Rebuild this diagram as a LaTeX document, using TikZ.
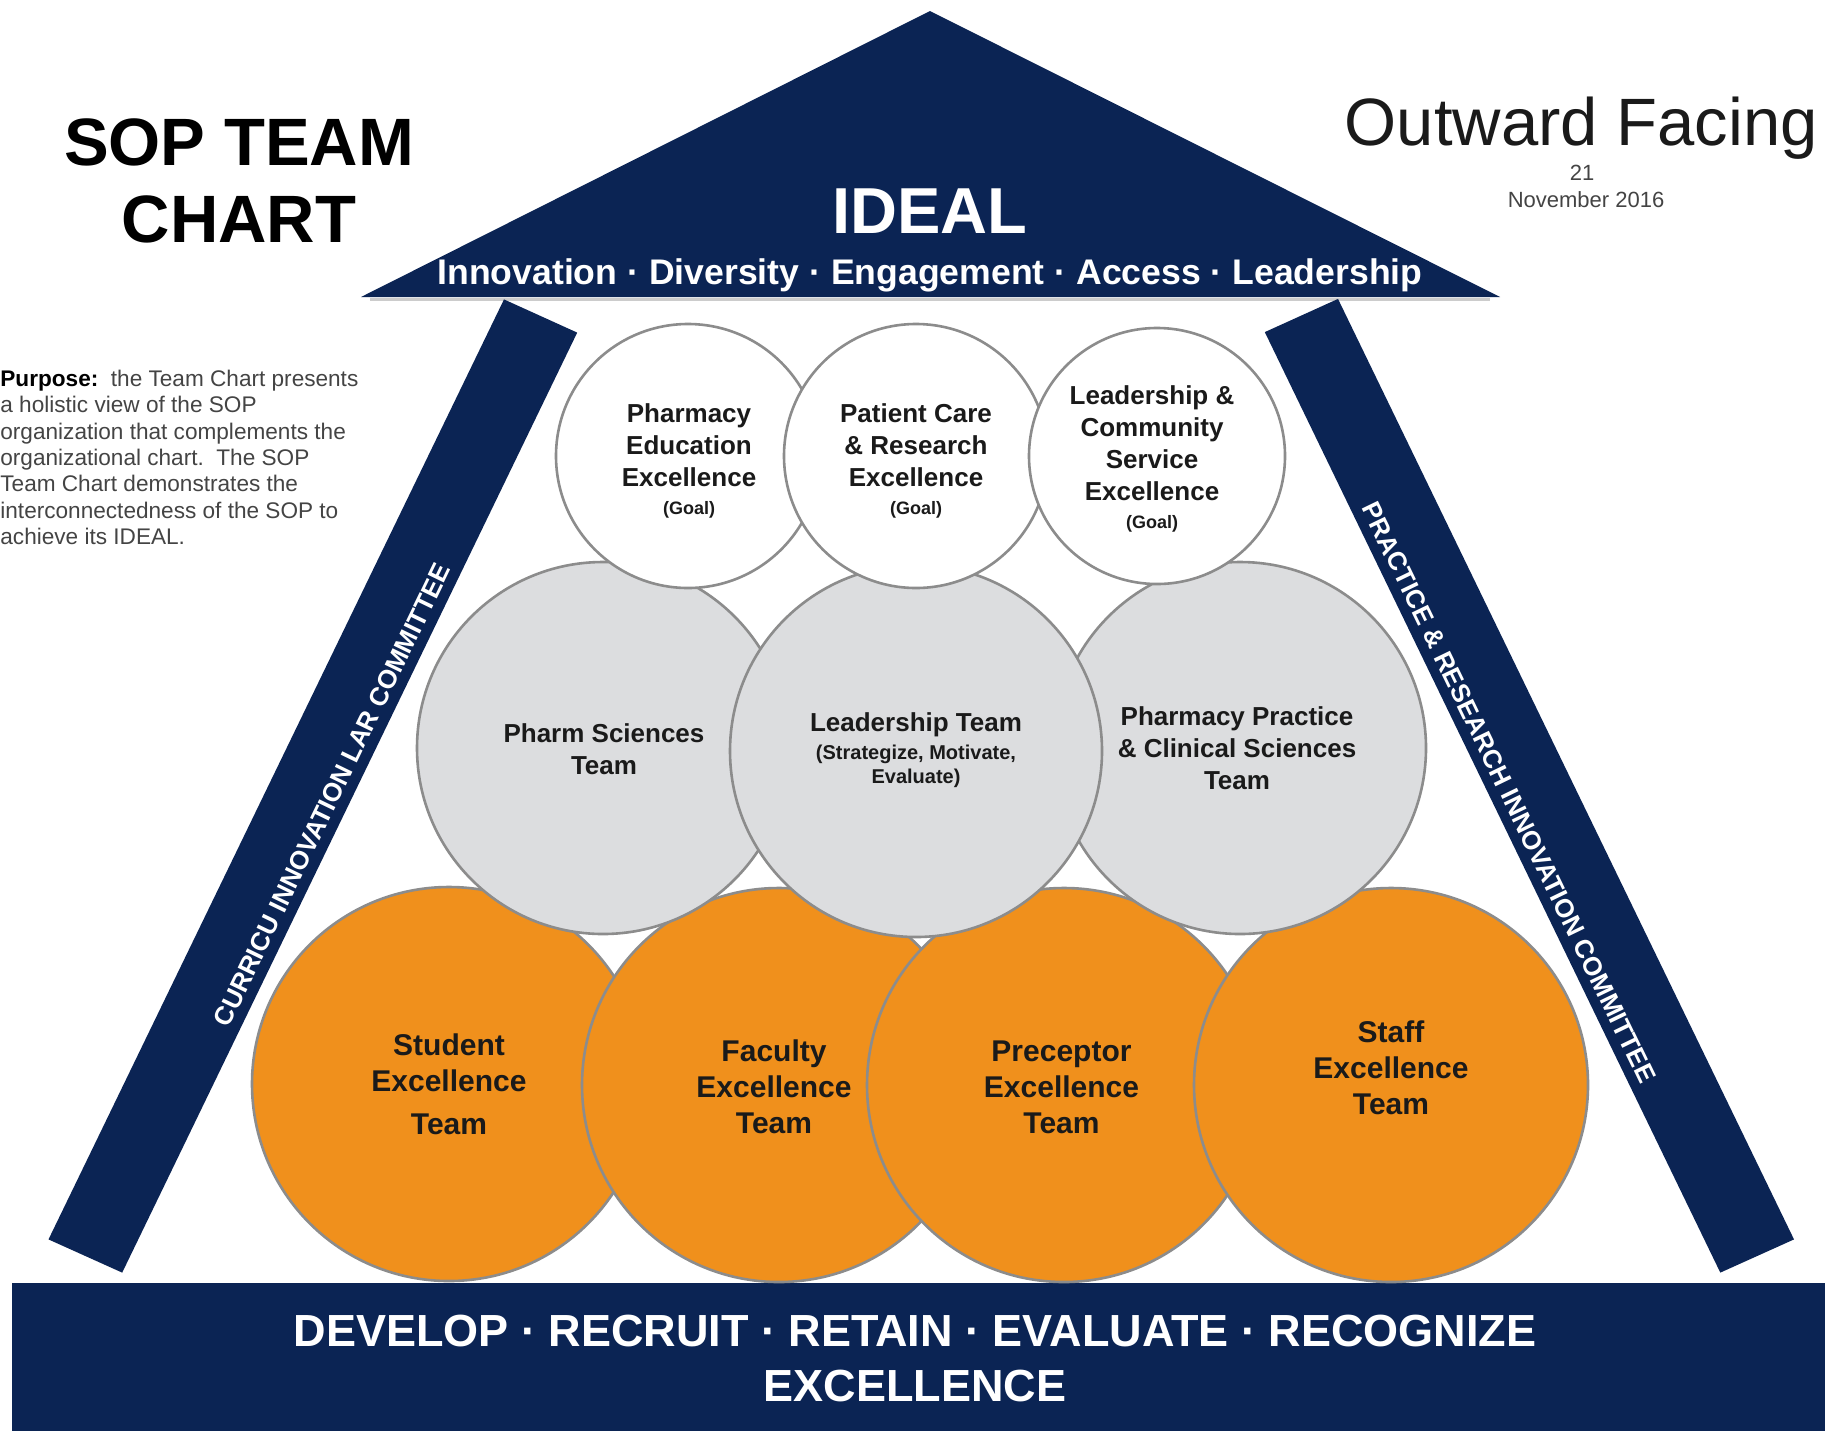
\documentclass[tikz,border=0pt]{standalone}
\usepackage{fontspec}
\setmainfont{Liberation Sans}
\definecolor{navy}{HTML}{0B2454}
\definecolor{orng}{HTML}{F0901C}
\definecolor{lgray}{HTML}{DCDDDF}
\definecolor{rim}{HTML}{8C8C8C}
\definecolor{ink}{HTML}{1A1A1A}
\definecolor{softink}{HTML}{444444}
\begin{document}
\begin{tikzpicture}[x=0.5pt,y=-0.5pt,
  goalc/.style={circle, draw=rim, line width=1.3pt, fill=white, inner sep=0pt},
  teamc/.style={circle, draw=rim, line width=1.3pt, fill=lgray, inner sep=0pt},
  xcelc/.style={circle, draw=rim, line width=1.3pt, fill=orng, inner sep=0pt},
  goaltxt/.style={align=center, text=ink, inner sep=0pt, font=\fontsize{13}{16}\selectfont\bfseries},
  teamtxt/.style={align=center, text=ink, inner sep=0pt, font=\fontsize{13}{16}\selectfont\bfseries},
  xceltxt/.style={align=center, text=ink, inner sep=0pt, font=\fontsize{15}{18}\selectfont\bfseries},
  pillartxt/.style={text=white, inner sep=0pt, font=\fontsize{13}{15}\selectfont\bfseries},
  whitetxt/.style={text=white, inner sep=0pt, anchor=base}
]
\useasboundingbox (0,0) rectangle (1825,1431);
\fill[white] (0,0) rectangle (1825,1431);

% roof
\coordinate (apex) at (930,11);
\coordinate (eaveL) at (361,297);
\coordinate (eaveR) at (1500,297);
\draw[gray!40, line width=1.5pt] (370,299.5) -- (1490,299.5);
\fill[navy] (eaveL) -- (apex) -- (eaveR) -- cycle;

% pillars
\fill[navy] (504,299.4) -- (577.2,332.6) -- (122.2,1272.6) -- (48.5,1239.4) -- cycle;
\fill[navy] (1338,298.9) -- (1264.8,332.1) -- (1720.3,1272.6) -- (1794,1239.4) -- cycle;

% foundation
\fill[navy] (12,1283) rectangle (1825,1431);

% bottom row
\node[xcelc, minimum size=197pt] (stud) at (449,1084) {};
\node[xcelc, minimum size=197pt] (fac) at (779,1085) {};
\node[xcelc, minimum size=197pt] (prec) at (1064,1085) {};
\node[xcelc, minimum size=197pt] (staff) at (1391,1085) {};

% middle row
\node[teamc, minimum size=186pt] (phsci) at (603,748) {};
\node[teamc, minimum size=186pt] (phprac) at (1240,748) {};
\node[teamc, minimum size=186pt] (lead) at (916,751) {};

% top row
\node[goalc, minimum size=132pt] (edu) at (688,456) {};
\node[goalc, minimum size=132pt] (care) at (916,456) {};
\node[goalc, minimum size=128pt] (serv) at (1157,456) {};

% circle texts
\node[goaltxt] (edut) at (689,461) {Pharmacy\\Education\\Excellence\\[-2pt]{\fontsize{9}{11}\selectfont (Goal)}};
\node[goaltxt] (caret) at (916,461) {Patient Care\\\& Research\\Excellence\\[-2pt]{\fontsize{9}{11}\selectfont (Goal)}};
\node[goaltxt] (servt) at (1152,459) {Leadership \&\\Community\\Service\\Excellence\\[-2pt]{\fontsize{9}{11}\selectfont (Goal)}};

\node[teamtxt] (phscit) at (604,749) {Pharm Sciences\\Team};
\node[teamtxt] (leadt) at (916,750) {Leadership Team\\[-2pt]{\fontsize{10}{12}\selectfont (Strategize, Motivate,}\\[-4pt]{\fontsize{10}{12}\selectfont Evaluate)}};
\node[teamtxt] (phpract) at (1237,748.5) {Pharmacy Practice\\\& Clinical Sciences\\Team};

\node[xceltxt] (studt) at (449,1084.5) {Student\\Excellence\\[3.5pt]Team};
\node[xceltxt] (fact) at (774,1087) {Faculty\\Excellence\\Team};
\node[xceltxt] (prect) at (1061.5,1087) {Preceptor\\Excellence\\Team};
\node[xceltxt] (stafft) at (1391,1067.5) {Staff\\Excellence\\Team};

% roof texts
\node[whitetxt, font=\fontsize{32.5}{36}\selectfont\bfseries] (ideal) at (930,233) {IDEAL};
\node[whitetxt, font=\fontsize{17.8}{20}\selectfont\bfseries] (values) at (930,284) {Innovation · Diversity · Engagement · Access · Leadership};

% pillar texts
\node[pillartxt, rotate=64.17] (curr) at (332,795) {CURRICU INNOVATION LAR COMMITTEE};
\node[pillartxt, rotate=-64.17] (prac) at (1509,792.5) {PRACTICE \& RESEARCH INNOVATION COMMITTEE};

% foundation texts
\node[whitetxt, font=\fontsize{22.5}{26}\selectfont\bfseries] (verbs) at (915,1346) {DEVELOP · RECRUIT · RETAIN · EVALUATE · RECOGNIZE};
\node[whitetxt, font=\fontsize{22.5}{26}\selectfont\bfseries] (excel) at (915,1401) {EXCELLENCE};

% title and side texts
\node[align=center, inner sep=0pt, text=black, font=\fontsize{33.5}{38.5}\selectfont\bfseries] (title) at (239,180.5) {SOP TEAM\\CHART};
\node[anchor=base east, inner sep=0pt, text=ink, font=\fontsize{33.5}{36}\selectfont] (outward) at (1818,145) {Outward Facing};
\node[anchor=base, inner sep=0pt, text=softink, font=\fontsize{11}{13}\selectfont] (day) at (1582,180) {21};
\node[anchor=base, inner sep=0pt, text=softink, font=\fontsize{11}{13}\selectfont] (month) at (1586,207) {November 2016};

\node[anchor=north west, align=left, inner sep=0pt, text=softink, font=\fontsize{11.3}{13.2}\selectfont] (purpose) at (0,369.5)
 {{\color{black}\bfseries Purpose:}\ \ the Team Chart presents\\a holistic view of the SOP\\organization that complements the\\organizational chart.\ \ The SOP\\Team Chart demonstrates the\\interconnectedness of the SOP to\\achieve its IDEAL.};
\end{tikzpicture}
\end{document}
